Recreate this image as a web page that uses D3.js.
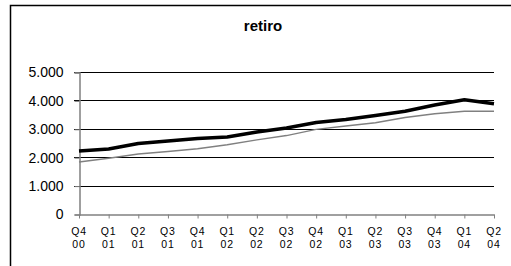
<!DOCTYPE html>
<html>
<head>
<meta charset="utf-8">
<script src="https://cdn.jsdelivr.net/npm/d3@7"></script>
<style>
  body { margin: 0; background: #fff; }
  svg { display: block; font-family: "Liberation Sans", Arial, sans-serif; }
</style>
</head>
<body>
<div id="chart"></div>
<script>
// quarters, two lines of each tick label
var quarters = ["Q4","Q1","Q2","Q3","Q4","Q1","Q2","Q3","Q4","Q1","Q2","Q3","Q4","Q1","Q2"];
var years    = ["00","01","01","01","01","02","02","02","02","03","03","03","03","04","04"];
var serieA = [2220,2290,2480,2570,2660,2710,2890,3030,3220,3330,3470,3620,3840,4020,3880];
var serieB = [1830,1960,2110,2200,2300,2440,2610,2760,2980,3100,3210,3400,3530,3620,3620];
var yTicks = [0,1000,2000,3000,4000,5000];

function load(){
  var width = 511, height = 266;
  var left = 79, right = 494, top = 72, bottom = 214;

  var svg = d3.select("#chart").append("svg")
    .attr("width", width)
    .attr("height", height);

  // chart frame (only left and top show in the picture)
  svg.append("rect")
    .attr("x", 10.5).attr("y", 5.5)
    .attr("width", 520).attr("height", 280)
    .attr("fill", "none")
    .attr("stroke", "#000")
    .attr("stroke-width", 1.5);

  svg.append("text")
    .attr("x", 263).attr("y", 31)
    .attr("text-anchor", "middle")
    .style("font-weight", "bold")
    .style("font-size", "15px")
    .text("retiro");

  var idx = d3.range(quarters.length);
  var x = d3.scalePoint().domain(idx).range([left, right]);
  var y = d3.scaleLinear().domain([0, 5000]).range([bottom, top]);

  // gridlines
  svg.append("g").selectAll("line")
    .data(yTicks.filter(function(d){ return d > 0; }))
    .enter().append("line")
    .attr("x1", left - 5).attr("x2", right)
    .attr("y1", function(d){ return Math.round(y(d)) + 0.5; })
    .attr("y2", function(d){ return Math.round(y(d)) + 0.5; })
    .attr("stroke", "#000")
    .attr("stroke-width", 1);

  // y axis
  var yAxis = svg.append("g")
    .attr("transform", "translate(" + (left + 0.5) + ",0.5)")
    .call(d3.axisLeft(y).tickValues(yTicks).tickSize(5).tickPadding(11)
      .tickFormat(function(d){ return d === 0 ? "0" : d3.format(",")(d).replace(/,/g, "."); }));
  yAxis.select(".domain").attr("stroke", "#808080").attr("stroke-width", 1.5);
  yAxis.selectAll(".tick line").attr("stroke", "#808080");
  yAxis.selectAll("text")
    .style("font-size", "14px")
    .attr("fill", "#000")
    .attr("font-family", null);

  // x axis
  var xAxis = svg.append("g")
    .attr("transform", "translate(0," + (bottom + 0.5) + ")")
    .call(d3.axisBottom(x).tickSize(4).tickSizeOuter(0).tickFormat(""));
  xAxis.select(".domain").attr("stroke", "#808080").attr("stroke-width", 1.5);
  xAxis.selectAll(".tick line").attr("stroke", "#808080");

  var lbl = svg.append("g").selectAll("text")
    .data(idx).enter().append("text")
    .attr("x", function(i){ return x(i); })
    .attr("text-anchor", "middle")
    .style("font-size", "10.5px")
    .style("letter-spacing", "0.8px");
  lbl.append("tspan").attr("x", function(i){ return x(i); }).attr("y", 235)
    .text(function(i){ return quarters[i]; });
  lbl.append("tspan").attr("x", function(i){ return x(i); }).attr("y", 248)
    .text(function(i){ return years[i]; });

  var line = function(vals){
    return d3.line().x(function(d, i){ return x(i); }).y(function(d){ return y(d); })(vals);
  };

  svg.append("path")
    .attr("d", line(serieB))
    .attr("fill", "none")
    .attr("stroke", "#808080")
    .attr("stroke-width", 1.5);

  svg.append("path")
    .attr("d", line(serieA))
    .attr("fill", "none")
    .attr("stroke", "#000")
    .attr("stroke-width", 3.5)
    .attr("stroke-linejoin", "round");
}

load();
</script>
</body>
</html>
